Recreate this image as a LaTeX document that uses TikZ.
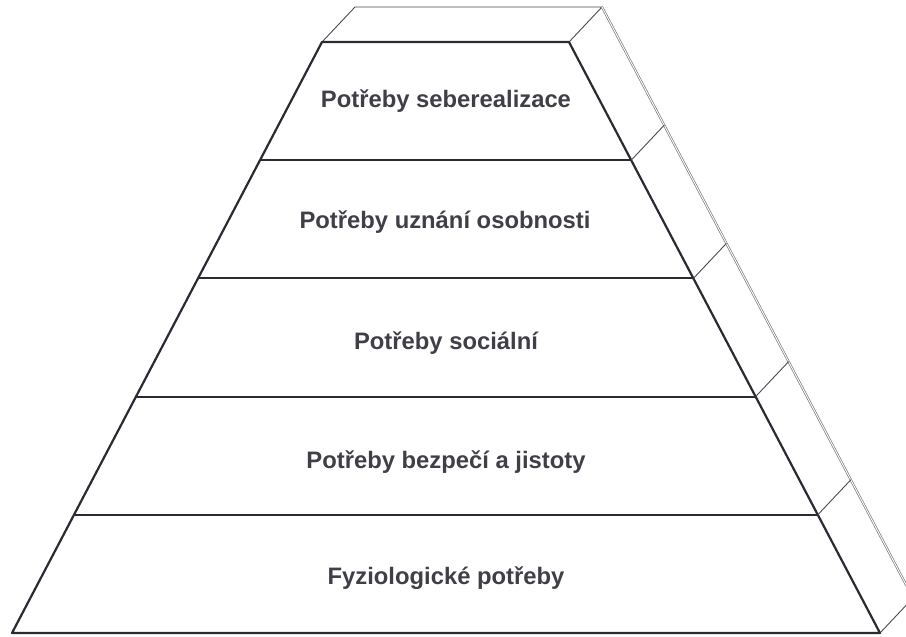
\documentclass[tikz,border=0pt]{standalone}
\usepackage{fontspec}
\setmainfont{Liberation Sans}
\usetikzlibrary{calc}
\definecolor{ink}{HTML}{2A2A33}
\definecolor{rimgray}{HTML}{7C7C7C}
\begin{document}
\begin{tikzpicture}[x=1pt,y=-1pt,
    front/.style={ink,line width=2.2pt,line join=round},
    side/.style={ink!85,line width=0.9pt},
    rim/.style={rimgray,double=white,double distance=0.9pt,line width=0.7pt},
    tier/.style={font=\bfseries\fontsize{23.8}{28}\selectfont,text=ink!90}]
  \useasboundingbox (0,0) rectangle (906,637);
  \clip (0,0) rectangle (906,637);
  % corners of the front face and the back rim
  \coordinate (tl) at (322,42);  \coordinate (tr) at (569,42);
  \coordinate (bl) at (12,633);  \coordinate (br) at (880,633);
  \coordinate (btl) at (355,7);  \coordinate (btr) at (602,7);
  \coordinate (bbr) at (913,598);
  % top and side face
  \draw[side] (tl) -- (btl) -- (btr) -- (tr);
  \draw[rim] (btr) -- (bbr);
  \draw[side] (br) -- (bbr);
  % front face with its levels
  \draw[front] (tl) -- (tr) -- (br) -- (bl) -- cycle;
  \foreach \t in {0.2,0.4,0.6,0.8} {
    \draw[front] ($(tl)!\t!(bl)$) -- ($(tr)!\t!(br)$) coordinate (r);
    \draw[side] (r) -- ++(33,-35);
  }
  \node[tier] (seber) at (446,101) {Potřeby seberealizace};
  \node[tier] (uznani) at (445,222) {Potřeby uznání osobnosti};
  \node[tier] (social) at (446,343) {Potřeby sociální};
  \node[tier] (bezpeci) at (446,462) {Potřeby bezpečí a jistoty};
  \node[tier] (fyzio) at (446,578) {Fyziologické potřeby};
\end{tikzpicture}
\end{document}
